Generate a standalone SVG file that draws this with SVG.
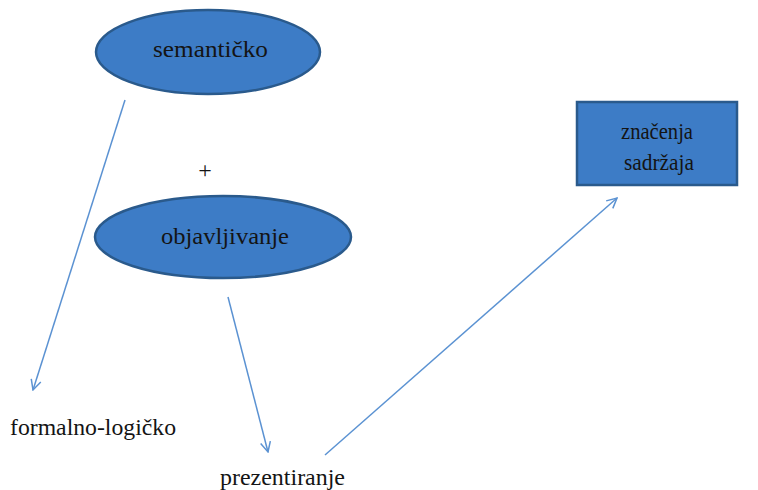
<svg xmlns="http://www.w3.org/2000/svg" width="758" height="490" viewBox="0 0 758 490">
<style>
.node{fill:#3d7cc6;stroke:#2a5a8c;stroke-width:2.5}
.lbl{font-family:'Liberation Serif','Times New Roman',serif;font-size:24px;fill:#141414;text-anchor:middle}
.txt{font-family:'Liberation Serif','Times New Roman',serif;font-size:24px;fill:#141414}
.conn{stroke:#5b92d2;stroke-width:1.5;fill:none;marker-end:url(#arr)}
</style>
<defs>
<marker id="arr" viewBox="0 0 12 12" refX="11" refY="6" markerWidth="12" markerHeight="12" markerUnits="userSpaceOnUse" orient="auto">
<path d="M1,1 L11,6 L1,11" fill="none" stroke="#5b92d2" stroke-width="1.5"/>
</marker>
</defs>
<rect width="758" height="490" fill="#fff"/>
<g id="connectors">
<line class="conn" x1="125" y1="100" x2="33" y2="390"/>
<line class="conn" x1="228" y1="297" x2="268" y2="452"/>
<line class="conn" x1="325" y1="455" x2="617" y2="198"/>
</g>
<g id="semanticko">
<ellipse class="node" cx="208" cy="52" rx="112" ry="42"/>
<text class="lbl" x="210.5" y="57" textLength="115" lengthAdjust="spacingAndGlyphs">semantičko</text>
</g>
<g id="plus">
<text class="lbl" x="205" y="178">+</text>
</g>
<g id="objavljivanje">
<ellipse class="node" cx="223" cy="237" rx="128" ry="41"/>
<text class="lbl" x="225" y="244" textLength="128" lengthAdjust="spacingAndGlyphs">objavljivanje</text>
</g>
<g id="znacenja">
<rect class="node" x="577" y="102" width="160" height="83"/>
<text class="lbl" x="657" y="139" font-size="22" textLength="72" lengthAdjust="spacingAndGlyphs">značenja</text>
<text class="lbl" x="659" y="170" font-size="22" textLength="70" lengthAdjust="spacingAndGlyphs">sadržaja</text>
</g>
<g id="formalno">
<text class="txt" x="10" y="435" textLength="166" lengthAdjust="spacingAndGlyphs">formalno-logičko</text>
</g>
<g id="prezentiranje">
<text class="txt" x="220" y="485" textLength="125" lengthAdjust="spacingAndGlyphs">prezentiranje</text>
</g>
</svg>
